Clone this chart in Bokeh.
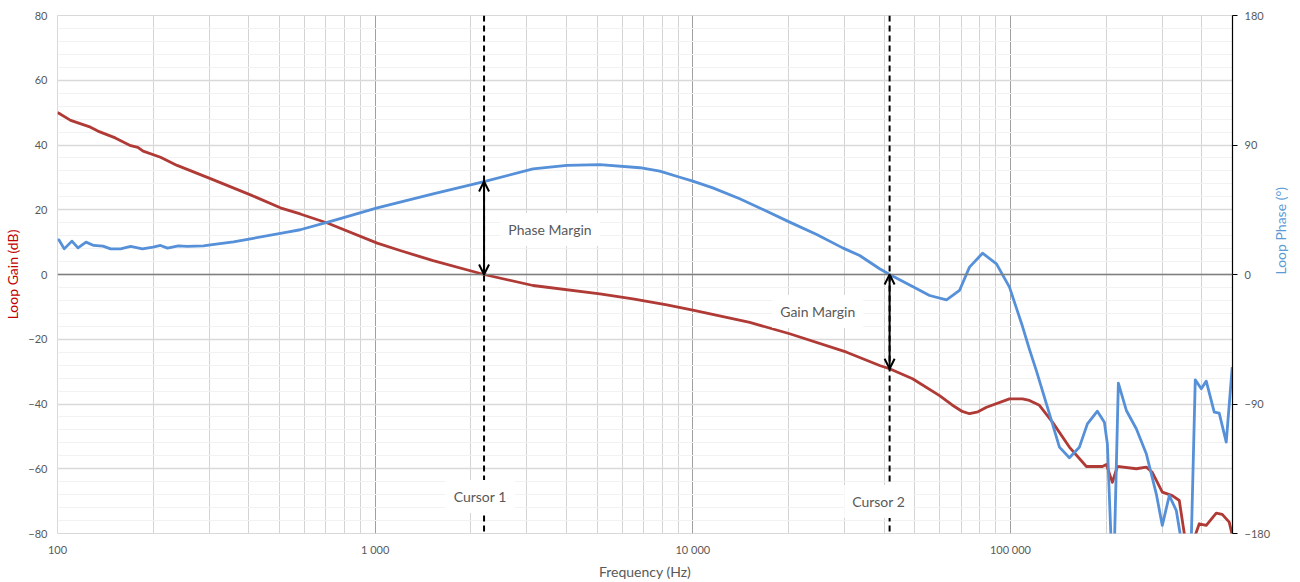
import math
from bokeh.plotting import figure
from bokeh.models import (Range1d, LinearAxis, FixedTicker, Span, Label, Arrow,
                          OpenHead, CustomJSTickFormatter)
from bokeh.embed import file_html
from bokeh.resources import INLINE

# ---------------- data ----------------
freq_gain = [100, 101, 110, 127, 134, 152, 170, 179, 186, 211, 238, 303, 405, 503,
             581, 707, 1015, 1198, 1522, 2202, 3140, 5099, 6476, 8283, 10000,
             15110, 20180, 30490, 38730, 41640, 49180, 59810, 65500, 70500, 74310, 79000,
             84060, 99280, 109080, 114750, 123350, 135570, 153250, 173380, 194670, 200390,
             209290, 217010, 248960, 267650, 279530, 300590, 323180, 340000, 349990,
             357670, 370850, 392960, 413380, 444430, 464160, 488300, 499000]
gain_db = [50.0, 49.8, 47.6, 45.5, 44.3, 42.2, 39.8, 39.3, 38.1, 36.2, 33.7, 29.6, 24.6, 20.6,
           18.7, 15.9, 9.7, 7.4, 4.3, 0.0, -3.4, -6.0, -7.5, -9.4, -11.0,
           -14.8, -18.3, -24.0, -28.1, -29.1, -32.2, -37.4, -40.3, -42.3, -43.0, -42.4,
           -41.0, -38.4, -38.4, -38.9, -40.4, -45.6, -53.3, -59.3, -59.3, -58.7,
           -64.2, -59.3, -60.0, -59.5, -61.1, -67.2, -68.3, -69.8, -78.0,
           -84.0, -84.0, -77.0, -77.5, -73.7, -74.1, -76.5, -80.5]

freq_phase = [100, 101, 105, 111, 116, 123, 130, 139, 147, 158, 170, 185, 200, 211, 222,
              240, 256, 288, 303, 358, 405, 529, 581, 738, 1015, 1522, 2202, 3140,
              4016, 5099, 6813, 7875, 9103, 10000, 11560, 14050, 17090, 20180, 24550,
              29620, 33510, 38730, 41640, 49180, 55640, 62920, 69100, 74310, 81660,
              90360, 99280, 109080, 114750, 120700, 132650, 142610, 153250, 164810,
              174640, 187750, 197510, 201850, 207780, 212340, 218590, 231630, 248960,
              267650, 287750, 300590, 316230, 332680, 344960, 370850, 381740, 398690,
              413380, 438040, 454190, 477800, 499000]
phase_deg = [24.0, 24.1, 17.8, 23.2, 18.5, 22.5, 20.2, 19.7, 17.8, 17.8, 19.5, 17.8, 19.0, 20.2, 18.3,
             19.9, 19.5, 19.9, 20.6, 22.7, 24.8, 29.4, 31.1, 37.5, 46.3, 56.1, 64.6, 73.4,
             75.8, 76.4, 74.2, 71.8, 67.6, 64.9, 60.2, 52.6, 44.0, 36.4, 27.8,
             18.5, 13.2, 4.0, 0.0, -8.3, -14.6, -17.6, -11.1, 5.1, 14.8,
             7.4, -8.8, -36.0, -52.0, -67.0, -96.8, -120.0, -127.4, -120.0,
             -103.8, -95.0, -102.6, -117.7, -190.0, -190.0, -75.5, -94.5, -107.2,
             -124.6, -152.4, -174.4, -153.6, -164.0, -185.0, -185.0, -73.2, -79.4,
             -74.1, -95.7, -96.4, -116.5, -64.4]

x_major = [100, 1000, 10000, 100000]
x_minor = [m * d for d in [100, 1000, 10000, 100000] for m in range(2, 10) if m * d <= 500000]
gain_ticks = [-80, -60, -40, -20, 0, 20, 40, 60, 80]
gain_minor = list(range(-80, 81, 4))
phase_ticks = [-180, -90, 0, 90, 180]

cursor1_hz = 2202
cursor2_hz = 41640
phase_at_cursor1 = 64.6
gain_at_cursor2 = -29.1

FONT = "Lato"
GRAY = "#595959"
RED = "#b03a35"
BLUE = "#5590d8"

# ---------------- figure ----------------
p = figure(width=1300, height=582, x_axis_type="log",
           x_range=Range1d(100, 500000), y_range=Range1d(-80, 80),
           output_backend="svg", toolbar_location=None,
           min_border_left=57, min_border_right=67, min_border_top=15, min_border_bottom=49,
           background_fill_color="white", border_fill_color="white")
p.outline_line_color = "#d9d9d9"
p.extra_y_ranges = {"phase": Range1d(-180, 180)}

# x axis
xax = p.xaxis[0]
xax.ticker = FixedTicker(ticks=x_major, minor_ticks=x_minor)
xax.formatter = CustomJSTickFormatter(
    code="return Math.round(tick).toString().replace(/\\B(?=(\\d{3})+(?!\\d))/g, ' ');")
xax.axis_line_color = None
xax.major_tick_line_color = None
xax.minor_tick_line_color = None
xax.major_tick_in = 0
xax.major_tick_out = 0
xax.minor_tick_in = 0
xax.minor_tick_out = 0
xax.major_label_standoff = 9
xax.major_label_text_font = FONT
xax.major_label_text_font_size = "11px"
xax.major_label_text_color = GRAY
xax.axis_label = "Frequency (Hz)"
xax.axis_label_text_font = FONT
xax.axis_label_text_font_style = "normal"
xax.axis_label_text_font_size = "14px"
xax.axis_label_text_color = GRAY
xax.axis_label_standoff = 4

# left axis
yax = p.yaxis[0]
yax.ticker = FixedTicker(ticks=gain_ticks, minor_ticks=gain_minor)
yax.axis_line_color = None
yax.major_tick_line_color = None
yax.minor_tick_line_color = None
yax.major_tick_in = 0
yax.major_tick_out = 0
yax.minor_tick_in = 0
yax.minor_tick_out = 0
yax.major_label_standoff = 10
yax.major_label_text_font = FONT
yax.major_label_text_font_size = "11px"
yax.major_label_text_color = GRAY
yax.axis_label = "Loop Gain (dB)"
yax.axis_label_text_font = FONT
yax.axis_label_text_font_style = "normal"
yax.axis_label_text_font_size = "14px"
yax.axis_label_text_color = "#c00000"
yax.axis_label_standoff = 4

# right axis
rax = LinearAxis(y_range_name="phase", ticker=FixedTicker(ticks=phase_ticks))
rax.axis_line_color = "black"
rax.axis_line_width = 1.2
rax.major_tick_line_color = "black"
rax.major_tick_in = 0
rax.major_tick_out = 5
rax.minor_tick_line_color = None
rax.minor_tick_in = 0
rax.minor_tick_out = 0
rax.major_label_standoff = 7
rax.major_label_text_font = FONT
rax.major_label_text_font_size = "11px"
rax.major_label_text_color = GRAY
rax.axis_label = "Loop Phase (°)"
rax.axis_label_text_font = FONT
rax.axis_label_text_font_style = "normal"
rax.axis_label_text_font_size = "14px"
rax.axis_label_text_color = "#5b9bd5"
rax.axis_label_standoff = 7
rax.axis_label_orientation = math.pi / 2
p.add_layout(rax, "right")

# grids
p.xgrid.ticker = FixedTicker(ticks=x_major, minor_ticks=x_minor)
p.xgrid.grid_line_color = "#a0a0a0"
p.xgrid.minor_grid_line_color = "#d4d4d4"
p.ygrid.ticker = FixedTicker(ticks=gain_ticks, minor_ticks=gain_minor)
p.ygrid.grid_line_color = "#d9d9d9"
p.ygrid.grid_line_width = 1.5
p.ygrid.minor_grid_line_color = "#f2f2f2"

p.add_layout(Span(location=0, dimension="width", line_color="#7f7f7f", line_width=1.5))

# curves
p.line(freq_gain, gain_db, line_color=RED, line_width=2.8, line_join="round")
p.line(freq_phase, phase_deg, line_color=BLUE, line_width=2.8, line_join="round",
       y_range_name="phase")

# cursors
for c in (cursor1_hz, cursor2_hz):
    p.add_layout(Span(location=c, dimension="height", line_color="black",
                      line_width=2, line_dash="6 4"))

# margin arrows
p.add_layout(Arrow(start=OpenHead(size=10, line_width=2), end=OpenHead(size=10, line_width=2),
                   x_start=cursor1_hz, y_start=0, x_end=cursor1_hz, y_end=phase_at_cursor1,
                   y_range_name="phase", line_width=2, line_color="black"))
p.add_layout(Arrow(start=OpenHead(size=10, line_width=2), end=OpenHead(size=10, line_width=2),
                   x_start=cursor2_hz, y_start=0, x_end=cursor2_hz, y_end=gain_at_cursor2,
                   line_width=2, line_color="black"))

# text labels
labels = [("Phase Margin", 3551, 13.9), ("Gain Margin", 24730, -11.4),
          ("Cursor 1", 2140, -68.6), ("Cursor 2", 38460, -70.1)]
for txt, lx, ly in labels:
    p.add_layout(Label(x=lx, y=ly, text=txt, text_align="center", text_baseline="middle",
                       text_font=FONT, text_font_size="14px", text_color=GRAY,
                       background_fill_color="white", padding=8))

open("out.html", "w").write(file_html(p, INLINE))
